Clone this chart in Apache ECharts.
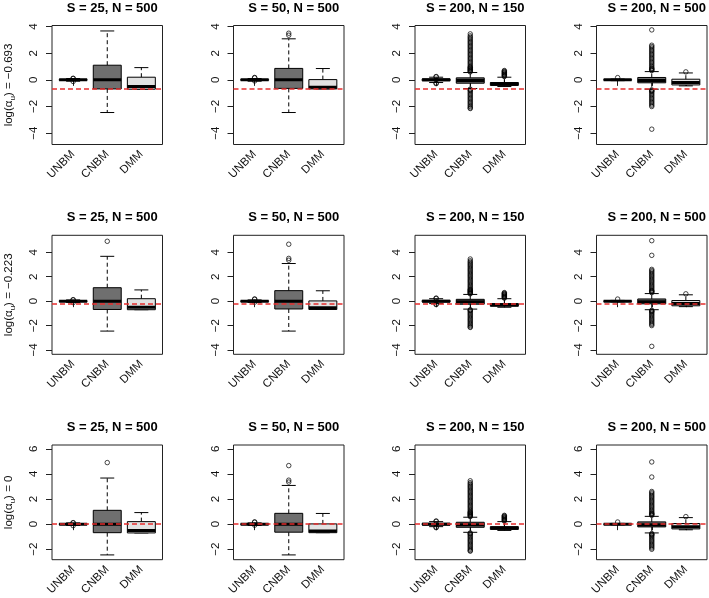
<!DOCTYPE html>
<html>
<head>
<meta charset="utf-8">
<script src="https://cdn.jsdelivr.net/npm/echarts@6/dist/echarts.min.js"></script>
<style>html,body{margin:0;padding:0;background:#fff}#c{width:709px;height:598px}</style>
</head>
<body>
<div id="c"></div>
<script>
// ---------- data ----------
const CATEGORIES = ['UNBM', 'CNBM', 'DMM'];
const PANEL_TITLES = ['S = 25, N = 500', 'S = 50, N = 500', 'S = 200, N = 150', 'S = 200, N = 500'];
const ROW_LABELS = ['−0.693', '−0.223', '0'];
const REF_LINES = [-0.693, -0.223, 0];
const Y_TICKS = [[-4, -2, 0, 2, 4], [-4, -2, 0, 2, 4], [-2, 0, 2, 4, 6]];

// box stats per panel column: [lower whisker, Q1, median, Q3, upper whisker]
const UNBM_STATS = [[-0.1, -0.03, 0, 0.03, 0.1], [-0.1, -0.03, 0, 0.03, 0.1], [-0.2, -0.07, 0, 0.07, 0.2], [-0.06, -0.02, 0, 0.02, 0.06]];
const CNBM_STATS = [[-2.45, -0.68, 0, 1.1, 3.67], [-2.45, -0.64, 0, 0.86, 3.08], [-0.65, -0.25, -0.05, 0.15, 0.55], [-0.7, -0.22, -0.05, 0.18, 0.62]];
const DMM_STATS = [[-0.7, -0.7, -0.5, 0.2, 0.92], [-0.68, -0.68, -0.55, 0.02, 0.85], [-0.5, -0.42, -0.3, -0.2, 0.2], [-0.45, -0.38, -0.2, 0.05, 0.52]];

// outliers per panel column
const UNBM_OUT = [[0.12, -0.12, 0.1], [0.18, 0.15, -0.08], [0.25, 0.22, -0.24, -0.28], [0.17]];
const CNBM_OUT = [
  [4.9],
  [3.35, 3.5, 4.66],
  [0.6, 0.65, 0.7, 0.75, 0.8, 0.85, 0.9, 0.95, 1.0, 1.1, 1.2, 1.3, 1.4, 1.5, 1.6, 1.7, 1.8, 1.9, 2.0, 2.1, 2.2, 2.3, 2.4, 2.5, 2.6, 2.7, 2.8, 2.9, 3.0, 3.1, 3.2, 3.3, 3.45,
   -0.7, -0.75, -0.8, -0.9, -1.0, -1.1, -1.2, -1.3, -1.4, -1.5, -1.6, -1.7, -1.8, -1.9, -2.0, -2.1, -2.15],
  [0.7, 0.75, 0.8, 0.85, 0.9, 1.0, 1.1, 1.2, 1.3, 1.4, 1.5, 1.6, 1.7, 1.8, 1.9, 2.0, 2.1, 2.2, 2.3, 2.4, 2.5, 2.6, 3.75, 4.95,
   -0.75, -0.8, -0.85, -0.9, -1.0, -1.1, -1.2, -1.3, -1.4, -1.5, -1.6, -1.7, -1.8, -1.9, -2.0, -3.7]
];
const DMM_OUT = [[], [], [0.25, 0.3, 0.35, 0.4, 0.45, 0.5, 0.55, 0.6, 0.65, 0.7], [0.6]];

// ---------- layout & style ----------
const COL_LEFT = [52, 233.5, 415, 596.5];
const COL_W = 110.5;
const ROW_TOP = [25.5, 235.3, 445];
const ROW_H = 119;
const Y_RANGE = [[-4.85, 4.08], [-4.35, 5.39], [-2.83, 6.3]];
const X_RANGE = [0.38, 3.62];
const FILLS = ['#ffffff', '#6f6f6f', '#e2e2e2'];
const FONT = 'Liberation Sans, Arial, Helvetica, sans-serif';
const BOX_HALF = 0.41, CAP_HALF = 0.205;

const STATS = [UNBM_STATS, CNBM_STATS, DMM_STATS];
const OUTS = [UNBM_OUT, CNBM_OUT, DMM_OUT];

const grids = [], xAxes = [], yAxes = [], series = [], titles = [];

function renderBox(params, api) {
  const x = api.value(0);
  const lo = api.value(1), q1 = api.value(2), med = api.value(3), q3 = api.value(4), hi = api.value(5);
  const fill = FILLS[Math.round(x) - 1];
  const P = (xx, yy) => api.coord([xx, yy]);
  const line = (a, b, style) => ({ type: 'line', shape: { x1: a[0], y1: a[1], x2: b[0], y2: b[1] }, style: style });
  const solid = { stroke: '#000', lineWidth: 1 };
  const dashed = { stroke: '#000', lineWidth: 1, lineDash: [4, 3] };
  const tl = P(x - BOX_HALF, q3), br = P(x + BOX_HALF, q1);
  return {
    type: 'group',
    children: [
      line(P(x, q3), P(x, hi), dashed),
      line(P(x, q1), P(x, lo), dashed),
      line(P(x - CAP_HALF, hi), P(x + CAP_HALF, hi), solid),
      line(P(x - CAP_HALF, lo), P(x + CAP_HALF, lo), solid),
      { type: 'rect', shape: { x: tl[0], y: tl[1], width: br[0] - tl[0], height: br[1] - tl[1] }, style: { fill: fill, stroke: '#000', lineWidth: 1 } },
      line(P(x - BOX_HALF, med), P(x + BOX_HALF, med), { stroke: '#000', lineWidth: 3 })
    ]
  };
}

for (let r = 0; r < 3; r++) {
  for (let c = 0; c < 4; c++) {
    const gi = r * 4 + c;
    grids.push({ left: COL_LEFT[c], top: ROW_TOP[r], width: COL_W, height: ROW_H, show: true, borderColor: '#222', borderWidth: 1, backgroundColor: 'transparent' });
    titles.push({
      text: PANEL_TITLES[c], left: COL_LEFT[c] + COL_W / 2, top: ROW_TOP[r] - 29, textAlign: 'center',
      textStyle: { fontFamily: FONT, fontSize: 13, fontWeight: 'bold', color: '#000' }
    });
    xAxes.push({
      gridIndex: gi, type: 'value', min: X_RANGE[0], max: X_RANGE[1],
      axisLine: { show: false }, splitLine: { show: false },
      axisTick: { show: true, length: 6, customValues: [1, 2, 3], lineStyle: { color: '#222' } },
      axisLabel: { customValues: [1, 2, 3], rotate: 45, margin: 8, fontFamily: FONT, fontSize: 11.5, color: '#111',
        formatter: v => CATEGORIES[Math.round(v) - 1] || '' }
    });
    const yAxis = {
      gridIndex: gi, type: 'value', min: Y_RANGE[r][0], max: Y_RANGE[r][1],
      axisLine: { show: false }, splitLine: { show: false },
      axisTick: { show: true, length: 6, customValues: Y_TICKS[r], lineStyle: { color: '#222' } },
      axisLabel: { customValues: Y_TICKS[r], rotate: 90, margin: 12, fontFamily: FONT, fontSize: 11.5, color: '#111',
        formatter: v => (v < 0 ? '−' + Math.abs(v) : String(v)) }
    };
    if (c === 0) {
      yAxis.name = '{a|log(α}{s|u}{a|) = ' + ROW_LABELS[r] + '}';
      yAxis.nameLocation = 'middle';
      yAxis.nameGap = 35;
      yAxis.nameTextStyle = {
        fontFamily: FONT, color: '#111',
        rich: {
          a: { fontFamily: FONT, fontSize: 11.5, lineHeight: 16, color: '#111' },
          s: { fontFamily: FONT, fontSize: 8, lineHeight: 16, verticalAlign: 'bottom', padding: [4, 0, 0, 0], color: '#111' }
        }
      };
    }
    yAxes.push(yAxis);

    const boxData = CATEGORIES.map((_, k) => [k + 1].concat(STATS[k][c]));
    series.push({
      type: 'custom', xAxisIndex: gi, yAxisIndex: gi, clip: true, z: 2,
      renderItem: renderBox, data: boxData, silent: true,
      markLine: {
        silent: true, symbol: ['none', 'none'], label: { show: false },
        lineStyle: { color: '#e62e2e', width: 1.6, type: [5, 3] },
        data: [{ yAxis: REF_LINES[r] }]
      }
    });
    const outData = [];
    CATEGORIES.forEach((_, k) => OUTS[k][c].forEach(v => outData.push([k + 1, v])));
    series.push({
      type: 'scatter', xAxisIndex: gi, yAxisIndex: gi, clip: true, z: 3, silent: true,
      symbol: 'circle', symbolSize: 4.5,
      itemStyle: { color: 'rgba(0,0,0,0)', borderColor: '#000', borderWidth: 0.9 },
      data: outData
    });
  }
}

const chart = echarts.init(document.getElementById('c'), null, { renderer: 'canvas' });
chart.setOption({
  animation: false,
  backgroundColor: '#fff',
  title: titles,
  grid: grids,
  xAxis: xAxes,
  yAxis: yAxes,
  series: series
});
</script>
</body>
</html>
